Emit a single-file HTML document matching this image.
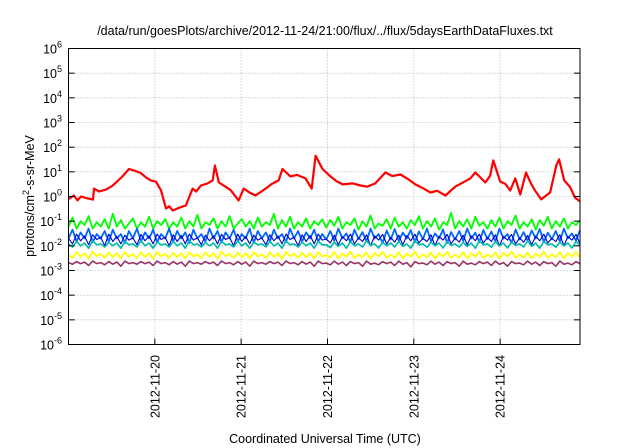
<!DOCTYPE html>
<html><head><meta charset="utf-8"><style>
html,body{margin:0;padding:0;background:#fff;}
svg{display:block;font-family:"Liberation Sans",sans-serif;}
</style></head><body>
<svg id="chart" width="640" height="448" viewBox="0 0 640 448" xmlns="http://www.w3.org/2000/svg">
<rect width="640" height="448" fill="#fff"/>
<text x="325" y="35" font-size="12.5" text-anchor="middle">/data/run/goesPlots/archive/2012-11-24/21:00/flux/../flux/5daysEarthDataFluxes.txt</text>
<g id="grid"></g>
<g id="series"></g>
<rect x="68.5" y="48.5" width="511.5" height="296" fill="none" stroke="#000" stroke-width="1"/>
<g id="axes"></g>
<text transform="translate(34,196) rotate(-90)" font-size="12.5" text-anchor="middle">protons/cm<tspan font-size="9" dy="-5">2</tspan><tspan dy="5">-s-sr-MeV</tspan></text>
<text x="325" y="443" font-size="12.5" text-anchor="middle">Coordinated Universal Time (UTC)</text>
</svg>
<script>
const dayLabels=["2012-11-20","2012-11-21","2012-11-22","2012-11-23","2012-11-24"];
const dayHours=[24,48,72,96,120];
const yExponents=[6,5,4,3,2,1,0,-1,-2,-3,-4,-5,-6];
const redHours=[0.1,1.5,2.5,3.5,5,6.8,7.1,8.5,10.4,12,13.2,15,16.8,18.5,20.1,21.5,22.9,24.3,25.7,27.1,28,29,31,32.6,34.5,35.5,36.8,38.5,40.1,40.7,41.8,43.5,45.1,47.3,48.7,50.5,52,54.8,56.5,58.4,59.5,61.7,63.5,65.9,67.6,68.7,70.6,72.8,74.5,76.2,79,81.2,83,85.3,88.1,90,92.3,94.5,96.4,98.5,100.6,102.5,104.8,107.5,109.5,111.7,113.1,115.9,117.2,118.1,120,121.5,122.8,124.2,125.6,127.2,128.5,129.7,131.4,133.9,135.6,136.4,137.8,139.4,140.8,142.2];
const redValues=[0.8,1.1,0.7,1.0,0.85,0.75,2.1,1.6,1.9,2.6,3.7,6.5,13,11,9,6,4.5,4,1.8,0.33,0.4,0.27,0.36,0.43,2.1,1.6,2.8,3.3,4.5,18,3.7,2.6,1.8,0.69,2.1,1.4,1.1,2.1,3.2,4.5,13,6.5,7.5,5.4,2.1,45,13,6.5,4.2,3.1,3.4,2.8,2.5,3.4,9.4,6.8,7.8,5,3.1,2.2,1.45,1.7,1.1,2.5,3.6,5.4,9.4,3.7,7,29,4.1,3.2,1.75,5.4,1.2,9.4,3.5,1.75,0.76,1.45,18,32,4.5,2.5,0.9,0.63];
const greenValues=[0.06,0.14,0.05,0.1,0.07,0.16,0.05,0.09,0.06,0.12,0.05,0.2,0.06,0.11,0.05,0.08,0.13,0.05,0.09,0.06,0.15,0.05,0.1,0.07,0.12,0.05,0.09,0.06,0.14,0.05,0.1,0.06,0.18,0.05,0.09,0.07,0.13,0.05,0.1,0.06,0.16,0.05,0.08,0.12,0.06,0.1,0.05,0.14,0.06,0.09,0.07,0.2,0.05,0.11,0.06,0.15,0.05,0.09,0.06,0.13,0.05,0.1,0.07,0.12,
0.055,0.11,0.065,0.15,0.05,0.09,0.07,0.13,0.045,0.1,0.06,0.17,0.05,0.08,0.065,0.12,0.05,0.14,0.06,0.09,0.05,0.11,0.07,0.16,0.05,0.1,0.06,0.13,0.045,0.09,0.07,0.22,0.05,0.1,0.06,0.12,0.05,0.15,0.065,0.09,0.05,0.11,0.06,0.14,0.05,0.1,0.07,0.17,0.05,0.09,0.06,0.12,0.045,0.11,0.065,0.15,0.05,0.1,0.06,0.13,0.05,0.09,0.07,0.11];
const blueValues=[0.02,0.045,0.015,0.035,0.02,0.05,0.014,0.03,0.02,0.04,0.015,0.045,0.02,0.03,0.013,0.04,0.02,0.05,0.015,0.035,0.02,0.045,0.014,0.03,0.02,0.05,0.015,0.04,0.02,0.035,0.013,0.045,0.02,0.03,0.015,0.05,0.02,0.04,0.014,0.035,0.02,0.045,0.015,0.03,0.02,0.05,0.013,0.04,0.02,0.035,0.015,0.045,0.02,0.03,0.014,0.05,0.02,0.04,0.015,0.035,0.02,0.045,0.015,0.03,
0.018,0.04,0.016,0.05,0.02,0.032,0.014,0.045,0.019,0.036,0.015,0.05,0.02,0.03,0.013,0.042,0.018,0.048,0.016,0.034,0.02,0.044,0.014,0.038,0.019,0.05,0.015,0.032,0.02,0.046,0.013,0.036,0.018,0.04,0.016,0.05,0.02,0.034,0.014,0.044,0.019,0.038,0.015,0.05,0.02,0.03,0.013,0.046,0.018,0.036,0.016,0.042,0.02,0.048,0.014,0.034,0.019,0.04,0.015,0.05,0.02,0.032,0.016,0.044];
const navyValues=[0.02,0.012,0.03,0.016,0.025,0.011,0.028,0.018,0.022,0.01,0.03,0.015,0.024,0.012,0.027,0.017,0.021,0.011,0.029,0.016,0.025,0.012,0.03,0.018,0.022,0.01,0.028,0.015,0.026,0.012,0.03,0.017,0.021,0.011,0.027,0.016,0.025,0.012,0.029,0.018,0.022,0.01,0.03,0.015,0.024,0.012,0.027,0.017,0.021,0.011,0.028,0.016,0.025,0.012,0.03,0.018,0.022,0.01,0.028,0.015,0.026,0.012,0.03,0.017,
0.019,0.013,0.027,0.011,0.024,0.016,0.03,0.012,0.021,0.015,0.028,0.01,0.025,0.017,0.029,0.012,0.022,0.014,0.027,0.011,0.026,0.016,0.03,0.013,0.02,0.015,0.028,0.01,0.024,0.017,0.029,0.012,0.021,0.014,0.027,0.011,0.025,0.016,0.03,0.013,0.022,0.015,0.028,0.01,0.024,0.017,0.029,0.012,0.021,0.014,0.026,0.011,0.025,0.016,0.03,0.013,0.02,0.015,0.028,0.01,0.024,0.017,0.029,0.012];
const tealValues=[0.012,0.009,0.015,0.01,0.013,0.008,0.016,0.011,0.012,0.009,0.014,0.01,0.013,0.008,0.015,0.011,0.012,0.009,0.016,0.01,0.013,0.008,0.014,0.011,0.012,0.009,0.015,0.01,0.013,0.008,0.016,0.011,0.012,0.009,0.014,0.01,0.013,0.008,0.015,0.011,0.012,0.009,0.016,0.01,0.013,0.008,0.014,0.011,0.012,0.009,0.015,0.01,0.013,0.008,0.016,0.011,0.012,0.009,0.014,0.01,0.013,0.008,0.015,0.011,
0.011,0.0085,0.014,0.0095,0.013,0.008,0.015,0.01,0.012,0.009,0.016,0.0105,0.012,0.0082,0.014,0.01,0.013,0.009,0.015,0.0095,0.012,0.008,0.016,0.011,0.012,0.0088,0.014,0.01,0.013,0.0082,0.015,0.0105,0.012,0.009,0.014,0.0095,0.013,0.008,0.016,0.011,0.012,0.0088,0.015,0.01,0.013,0.0082,0.014,0.0105,0.012,0.009,0.016,0.0095,0.013,0.008,0.015,0.011,0.012,0.0088,0.014,0.01,0.013,0.0082,0.015,0.0105];
const yellowValues=[0.0045,0.0032,0.0055,0.0036,0.005,0.003,0.0058,0.0038,0.0047,0.0033,0.0053,0.0035,0.005,0.0031,0.0056,0.0037,0.0046,0.0032,0.0054,0.0036,0.005,0.003,0.0057,0.0038,0.0047,0.0033,0.0052,0.0035,0.005,0.0031,0.0055,0.0037,0.0046,0.0032,0.0054,0.0036,0.005,0.003,0.0058,0.0038,0.0047,0.0033,0.0053,0.0035,0.005,0.0031,0.0056,0.0037,0.0046,0.0032,0.0054,0.0036,0.005,0.003,0.0057,0.0038,0.0047,0.0033,0.0052,0.0035,0.005,0.0031,0.0055,0.0037,
0.0042,0.0034,0.0056,0.0031,0.0049,0.0036,0.0058,0.0032,0.0045,0.0035,0.0054,0.003,0.0051,0.0037,0.0057,0.0033,0.0044,0.0034,0.0055,0.0031,0.0048,0.0036,0.0058,0.0032,0.0046,0.0035,0.0053,0.003,0.005,0.0037,0.0056,0.0033,0.0044,0.0034,0.0055,0.0031,0.0049,0.0036,0.0057,0.0032,0.0045,0.0035,0.0054,0.003,0.0051,0.0037,0.0058,0.0033,0.0044,0.0034,0.0053,0.0031,0.0048,0.0036,0.0056,0.0032,0.0046,0.0035,0.0055,0.003,0.005,0.0037,0.0057,0.0033];
const purpleValues=[0.0021,0.0018,0.0023,0.0019,0.0022,0.0016,0.0024,0.0019,0.0021,0.0017,0.0023,0.0018,0.0022,0.0015,0.0024,0.0019,0.0021,0.0018,0.0023,0.0019,0.0022,0.0016,0.0024,0.0019,0.0021,0.0017,0.0023,0.0018,0.0022,0.0015,0.0024,0.0019,0.0021,0.0018,0.0023,0.0019,0.0022,0.0016,0.0024,0.0019,0.0021,0.0017,0.0023,0.0018,0.0022,0.0015,0.0024,0.0019,0.0021,0.0018,0.0023,0.0019,0.0022,0.0016,0.0024,0.0019,0.0021,0.0017,0.0023,0.0018,0.0022,0.0015,0.0024,0.0019,
0.002,0.0017,0.0024,0.0018,0.0022,0.0016,0.0023,0.0019,0.0021,0.0015,0.0024,0.0018,0.002,0.0017,0.0023,0.0019,0.0022,0.0016,0.0024,0.0018,0.0021,0.0014,0.0023,0.0019,0.002,0.0017,0.0024,0.0018,0.0022,0.0016,0.0023,0.0019,0.0021,0.0015,0.0024,0.0018,0.002,0.0017,0.0023,0.0019,0.0022,0.0016,0.0024,0.0018,0.0021,0.0015,0.0023,0.0019,0.002,0.0017,0.0024,0.0018,0.0022,0.0016,0.0023,0.0019,0.0021,0.0015,0.0024,0.0018,0.002,0.0017,0.0023,0.0019];
const SPAN_H=142.2;
const NS="http://www.w3.org/2000/svg";
const X0=68.5,X1=580,Y0=48.5,Y1=344.5;
function xScale(h){return X0+(h/SPAN_H)*(X1-X0);}
function yScale(v){return Y0+(6-Math.log10(v))/12*(Y1-Y0);}
function mk(tag,attrs,parent){const e=document.createElementNS(NS,tag);for(const k in attrs)e.setAttribute(k,attrs[k]);parent.appendChild(e);return e;}
const grid=document.getElementById('grid'),axes=document.getElementById('axes'),series=document.getElementById('series');
yExponents.forEach(ex=>{
  const y=yScale(Math.pow(10,ex));
  if(ex<6&&ex>-6){const g=mk('line',{x1:X0,x2:X1,y1:y,y2:y,stroke:'#aaa','stroke-width':0.8,'stroke-dasharray':'1,2'},grid);
  
  }
  const t1=mk('line',{x1:X0,x2:X0+6,y1:y,y2:y,stroke:'#000'},axes);
  
  
  const t2=mk('line',{x1:X1-6,x2:X1,y1:y,y2:y,stroke:'#000'},axes);
  
  
  const lab=mk('text',{x:62,y:y+5,'font-size':12.5,'text-anchor':'end'},axes);
  
  
  const b=document.createElementNS(NS,'tspan');b.textContent='10';lab.appendChild(b);
  const s=document.createElementNS(NS,'tspan');s.setAttribute('font-size','9');s.setAttribute('dy','-6');s.textContent=String(ex);lab.appendChild(s);
});
dayHours.forEach((h,i)=>{
  const x=xScale(h);
  const g=mk('line',{x1:x,x2:x,y1:Y0,y2:Y1,stroke:'#aaa','stroke-width':0.8,'stroke-dasharray':'1,2'},grid);
  
  
  const t=mk('line',{x1:x,x2:x,y1:Y1-6,y2:Y1,stroke:'#000'},axes);
  
  
  const lab=mk('text',{transform:`translate(${x+4.5},355) rotate(-90)`,'font-size':12.5,'text-anchor':'end'},axes);
  
  
  lab.textContent=dayLabels[i];
});
function drawEven(vals,color,name,w){
  const pts=vals.map((v,i)=>xScale(i/(vals.length-1)*SPAN_H).toFixed(1)+','+yScale(v).toFixed(1)).join(' ');
  const p=mk('polyline',{points:pts,fill:'none',stroke:color,'stroke-width':w,'stroke-linejoin':'round'},series);
  
  
}
drawEven(purpleValues,'#993366','series-purple',1.6);
drawEven(yellowValues,'#ffff00','series-yellow',1.8);
drawEven(greenValues,'#00ff00','series-green',1.8);
drawEven(blueValues,'#0066ff','series-blue',1.8);
drawEven(navyValues,'#0000cc','series-navy',1.1);
drawEven(tealValues,'#00bbaa','series-teal',1.6);
const rp=redHours.map((h,i)=>xScale(h).toFixed(1)+','+yScale(redValues[i]).toFixed(1)).join(' ');
const red=mk('polyline',{points:rp,fill:'none',stroke:'#ff0000','stroke-width':2.2,'stroke-linejoin':'round'},series);


</script>
</body></html>
